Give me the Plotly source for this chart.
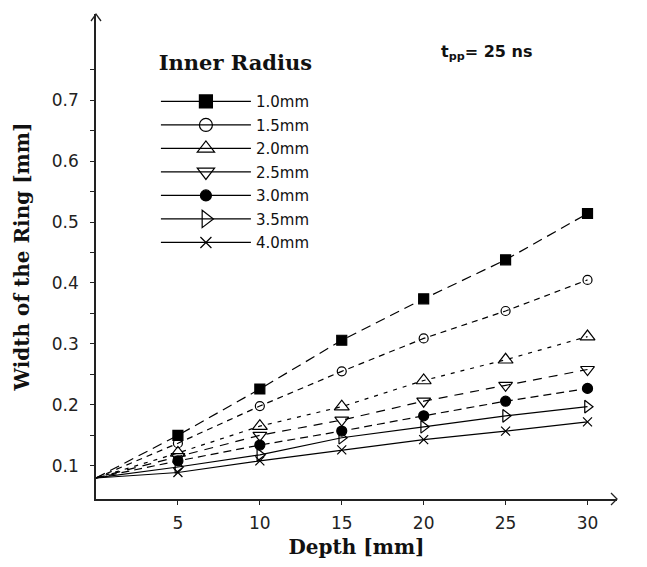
import plotly.graph_objects as go

# ---- data ----
depth_mm = [0, 5, 10, 15, 20, 25, 30]
radius_labels = ["1.0mm", "1.5mm", "2.0mm", "2.5mm", "3.0mm", "3.5mm", "4.0mm"]

width_r10 = [0.080, 0.150, 0.226, 0.306, 0.374, 0.438, 0.514]
width_r15 = [0.080, 0.137, 0.198, 0.255, 0.309, 0.354, 0.405]
width_r20 = [0.080, 0.121, 0.165, 0.197, 0.240, 0.274, 0.312]
width_r25 = [0.080, 0.115, 0.150, 0.175, 0.206, 0.232, 0.258]
width_r30 = [0.080, 0.108, 0.134, 0.157, 0.182, 0.206, 0.227]
width_r35 = [0.080, 0.098, 0.118, 0.146, 0.164, 0.182, 0.197]
width_r40 = [0.080, 0.089, 0.108, 0.126, 0.143, 0.157, 0.172]

x_tick_vals = [5, 10, 15, 20, 25, 30]
x_tick_text = ["5", "10", "15", "20", "25", "30"]
y_tick_vals = [0.1, 0.15, 0.2, 0.25, 0.3, 0.35, 0.4, 0.45, 0.5, 0.55, 0.6, 0.65, 0.7, 0.75]
y_tick_text = ["0.1", "", "0.2", "", "0.3", "", "0.4", "", "0.5", "", "0.6", "", "0.7", ""]

series = [width_r10, width_r15, width_r20, width_r25, width_r30, width_r35, width_r40]

# ---- styles ----
symbols = ["square", "circle-open", "triangle-up-open", "triangle-down-open",
           "circle", "triangle-right-open", "x-thin-open"]
data_sizes = [10, 9, 13, 12, 10, 11, 9]
legend_sizes = [13, 13, 15, 15, 11, 15, 11]
dashes = ["10px,6px", "6px,5px", "4px,6px", "9px,7px", "8px,5px", "solid", "solid"]

fig = go.Figure()
for lab, ys, sym, sz, dash in zip(radius_labels, series, symbols, data_sizes, dashes):
    fig.add_trace(go.Scatter(
        x=depth_mm, y=ys, mode="lines+markers", name=lab, showlegend=False,
        line=dict(color="black", width=1.2, dash=dash),
        marker=dict(symbol=sym, size=[0] + [sz] * (len(ys) - 1), color="black", opacity=1,
                    line=dict(color="black", width=1.2)),
        cliponaxis=False,
    ))

# legend proxies (solid line samples, as in the reference legend)
for lab, sym, sz in zip(radius_labels, symbols, legend_sizes):
    fig.add_trace(go.Scatter(
        x=[None], y=[None], mode="lines+markers", name=lab, legendgroup=lab,
        line=dict(color="black", width=1.2),
        marker=dict(symbol=sym, size=sz, color="black", opacity=1,
                    line=dict(color="black", width=1.2)),
    ))

axis_font = dict(family="DejaVu Sans", size=17, color="#222")
title_font = dict(family="DejaVu Serif", size=20, color="#111")

fig.update_xaxes(
    range=[0, 31.8], showline=True, linecolor="#222", linewidth=1.5,
    ticks="outside", ticklen=4, tickcolor="#222", tickvals=x_tick_vals, ticktext=x_tick_text,
    tickfont=axis_font, ticklabelstandoff=4, showgrid=False, zeroline=False,
    title=dict(text="<b>Depth [mm]</b>", font=title_font, standoff=8),
)
fig.update_yaxes(
    range=[0.0455, 0.8414], showline=True, linecolor="#222", linewidth=1.5,
    ticks="outside", ticklen=4, tickcolor="#222", tickvals=y_tick_vals, ticktext=y_tick_text,
    tickfont=axis_font, ticklabelstandoff=8, showgrid=False, zeroline=False,
    title=dict(text="<b>Width of the Ring [mm]</b>", font=title_font, standoff=17),
)

fig.update_layout(
    width=647, height=567,
    margin=dict(l=96, r=30, t=14, b=64),
    paper_bgcolor="white", plot_bgcolor="white",
    showlegend=True,
    legend=dict(
        x=0.115, y=0.9175, xanchor="left", yanchor="top",
        bgcolor="rgba(0,0,0,0)",
        font=dict(family="DejaVu Sans", size=15, color="#111"),
        title=dict(text="<span style='font-size:21px'><b>Inner Radius</b></span><br> ",
                   side="top center",
                   font=dict(family="DejaVu Serif", size=12, color="#111")),
        tracegroupgap=1, itemwidth=90, itemclick=False,
    ),
    annotations=[dict(
        text="<b>t<sub>pp</sub>= 25 ns</b>", xref="paper", yref="paper",
        x=0.75, y=0.92, xanchor="center", yanchor="middle", showarrow=False,
        font=dict(family="DejaVu Sans", size=16, color="#111"),
    )],
    shapes=[
        # arrow head on top of the y axis
        dict(type="path", xref="paper", yref="paper", xsizemode="pixel", ysizemode="pixel",
             xanchor=0, yanchor=1, path="M-5,-7 L0,0 L5,-7",
             line=dict(color="#222", width=1.3)),
        # arrow head at the right end of the x axis
        dict(type="path", xref="paper", yref="paper", xsizemode="pixel", ysizemode="pixel",
             xanchor=1, yanchor=0, path="M-6,6 L0,0 L-6,-6",
             line=dict(color="#222", width=1.3)),
    ],
)

fig.write_html("out.html")
